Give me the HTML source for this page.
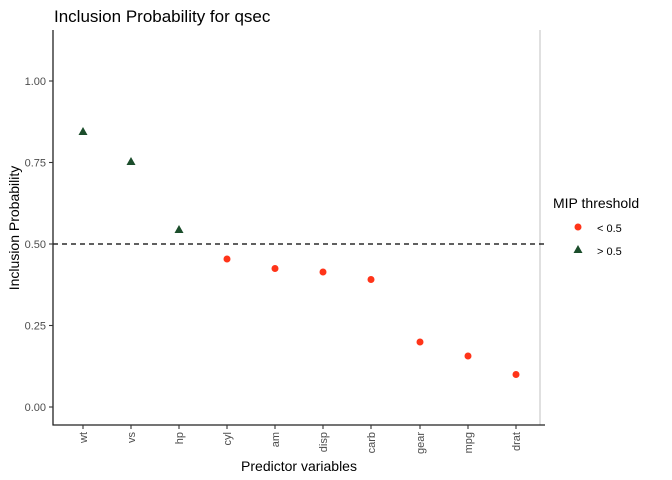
<!DOCTYPE html>
<html><head><style>body{margin:0;background:#fff}svg{display:block}text{font-family:"Liberation Sans",sans-serif}</style></head><body>
<svg width="672" height="480" viewBox="0 0 672 480">
<text x="54" y="22" font-size="17" fill="#000">Inclusion Probability for qsec</text>
<line x1="540" y1="30" x2="540" y2="425" stroke="#d0d0d0" stroke-width="1.3"/>
<line x1="53" y1="244" x2="545" y2="244" stroke="#000" stroke-width="1.2" stroke-dasharray="5,4"/>
<line x1="53" y1="30" x2="53" y2="425.5" stroke="#222" stroke-width="1.3"/>
<line x1="52.5" y1="425" x2="545" y2="425" stroke="#222" stroke-width="1.3"/>
<g font-size="11" fill="#4d4d4d" text-anchor="end">
<text x="46" y="85">1.00</text><text x="46" y="166.5">0.75</text><text x="46" y="248">0.50</text><text x="46" y="329.5">0.25</text><text x="46" y="411">0.00</text>
</g>
<g stroke="#333" stroke-width="1.1">
<line x1="49" y1="81" x2="53" y2="81"/><line x1="49" y1="162.5" x2="53" y2="162.5"/><line x1="49" y1="244" x2="53" y2="244"/><line x1="49" y1="325.5" x2="53" y2="325.5"/><line x1="49" y1="407" x2="53" y2="407"/>
<line x1="83" y1="425" x2="83" y2="429"/><line x1="131" y1="425" x2="131" y2="429"/><line x1="179" y1="425" x2="179" y2="429"/><line x1="227" y1="425" x2="227" y2="429"/><line x1="275" y1="425" x2="275" y2="429"/><line x1="323" y1="425" x2="323" y2="429"/><line x1="371" y1="425" x2="371" y2="429"/><line x1="420" y1="425" x2="420" y2="429"/><line x1="468" y1="425" x2="468" y2="429"/><line x1="516" y1="425" x2="516" y2="429"/>
</g>
<g font-size="11" fill="#4d4d4d" text-anchor="end">
<text transform="translate(87,432) rotate(-90)">wt</text>
<text transform="translate(135,432) rotate(-90)">vs</text>
<text transform="translate(183,432) rotate(-90)">hp</text>
<text transform="translate(231,432) rotate(-90)">cyl</text>
<text transform="translate(279,432) rotate(-90)">am</text>
<text transform="translate(327,432) rotate(-90)">disp</text>
<text transform="translate(375,432) rotate(-90)">carb</text>
<text transform="translate(424,432) rotate(-90)">gear</text>
<text transform="translate(472,432) rotate(-90)">mpg</text>
<text transform="translate(520,432) rotate(-90)">drat</text>
</g>
<text x="299" y="471" font-size="14" text-anchor="middle">Predictor variables</text>
<text transform="translate(19,228) rotate(-90)" font-size="14" text-anchor="middle">Inclusion Probability</text>
<g fill="#1b4d2b">
<polygon points="83,127 87.5,135 78.5,135"/>
<polygon points="131,157 135.5,165 126.5,165"/>
<polygon points="179,225 183.5,233 174.5,233"/>
<polygon points="578,245 582.5,253 573.5,253"/>
</g>
<g fill="#ff3419">
<circle cx="227" cy="259" r="3.5"/><circle cx="275" cy="268.5" r="3.5"/><circle cx="323" cy="272" r="3.5"/><circle cx="371" cy="279.5" r="3.5"/><circle cx="420" cy="342" r="3.5"/><circle cx="468" cy="356" r="3.5"/><circle cx="516" cy="374.5" r="3.5"/>
<circle cx="578" cy="227" r="3.5"/>
</g>
<text x="553" y="208" font-size="14">MIP threshold</text>
<text x="597" y="232" font-size="11">&lt; 0.5</text>
<text x="597" y="255" font-size="11">&gt; 0.5</text>
</svg>
</body></html>
